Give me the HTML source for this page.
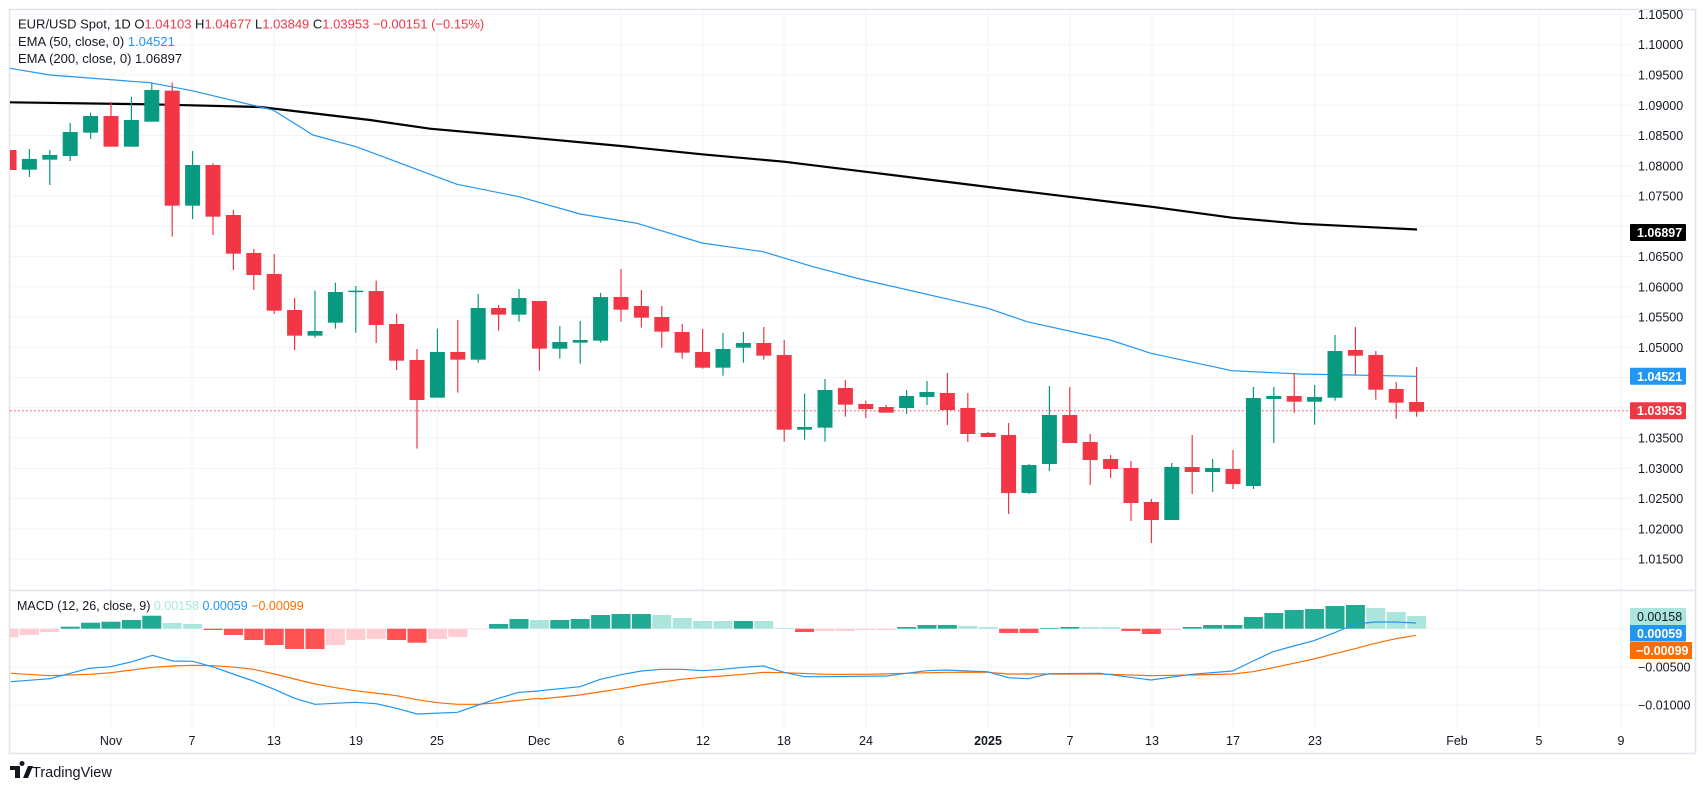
<!DOCTYPE html>
<html><head><meta charset="utf-8">
<style>
html,body{margin:0;padding:0;background:#fff;width:1706px;height:789px;overflow:hidden}
svg text{font-family:"Liberation Sans",sans-serif}
</style></head>
<body>
<svg id="s" width="1706" height="789" xmlns="http://www.w3.org/2000/svg"></svg>
<script>
const S=document.getElementById('s');let h='';
const yP=p=>75+(1.095-p)*6051;
const X=i=>111+(i-6)*20.4;
const L=10,R=1630;
// frame
h+='<rect x="9.5" y="9.5" width="1686" height="744" fill="none" stroke="#E0E3EB" stroke-width="1.5"/>';
// vertical grid
const vx=[111,192,274,356,437,539,621,703,784,866,988,1070,1152,1233,1315,1457,1539,1621];
vx.forEach(x=>h+=`<line x1="${x}" y1="10" x2="${x}" y2="728" stroke="#F0F3FA" stroke-width="1"/>`);
// horizontal price grid + labels
for(let k=0;k<=18;k++){const p=1.105-k*0.005;const y=yP(p);
 h+=`<line x1="${L}" y1="${y}" x2="${R}" y2="${y}" stroke="#F0F3FA"/>`;
 h+=`<text x="1638" y="${y+4.5}" font-size="12.5" fill="#131722">${p.toFixed(5)}</text>`;}
h+=`<line x1="10" y1="590.5" x2="1696" y2="590.5" stroke="#E0E3EB" stroke-width="1.5"/>`;
// MACD grid
[628.7,667.3,705.3].forEach(y=>h+=`<line x1="${L}" y1="${y}" x2="${R}" y2="${y}" stroke="#F0F3FA"/>`);
h+=`<text x="1638" y="671.5" font-size="12.5" fill="#131722">−0.00500</text><text x="1638" y="709.5" font-size="12.5" fill="#131722">−0.01000</text>`;
h+='<defs><clipPath id="c"><rect x="10" y="10" width="1620" height="580"/></clipPath><clipPath id="c2"><rect x="10" y="591" width="1620" height="137"/></clipPath></defs>';
// candles: [offsetY, top, bot, wt, wb, color]
const G='#089981',Rd='#F23645';
const c7=[[270,330,270,330,'r'],[297,329,267,351,'g'],[285,299,270,375,'g'],[216,288,189,303,'g'],[168,218,158,237,'g'],[168,260,126,260,'r'],[180,260,110,260,'g'],[90,185,70,185,'g'],[92,437,68,530,'r'],[315,437,273,477,'g'],[315,470,310,525,'r'],[465,581,450,630,'r'],[579,645,567,690,'r'],[642,752,582,762,'r'],[750,827,714,870,'r'],[813,827,692,833,'g'],[696,788,668,806,'g'],[692,695,678,818,'g'],[693,795,662,849,'r'],[792,902,762,930,'r'],[900,1020,867,1166,'r']];
const c8=[[876,1013,806,1013,'g'],[876,899,780,998,'r'],[744,899,702,908,'g'],[744,764,735,812,'r'],[714,764,687,785,'g'],[723,866,723,932,'r'],[846,866,798,896,'g'],[840,848,783,911,'g'],[711,842,699,848,'g'],[711,749,627,785,'r'],[738,773,690,803,'r'],[771,815,738,863,'r'],[816,878,792,896,'r'],[876,923,807,926,'r'],[867,923,819,947,'g'],[849,863,816,908,'g'],[849,887,801,899,'r'],[885,1109,840,1145,'r'],[1101,1109,1001,1139,'g'],[990,1103,957,1145,'g'],[984,1034,960,1070,'r']];
const c9=[[672,687,662,714,'r'],[681,698,675,698,'r'],[648,684,630,702,'g'],[636,651,603,675,'g'],[639,690,579,735,'r'],[684,762,639,786,'r'],[759,771,756,771,'r'],[765,939,729,1002,'r'],[855,939,852,942,'g'],[705,852,618,873,'g'],[705,789,621,789,'r'],[786,840,762,915,'r'],[837,867,825,894,'r'],[864,969,843,1023,'r'],[966,1020,957,1089,'r'],[861,1020,849,1020,'g'],[861,876,765,942,'r'],[864,876,837,936,'g'],[867,912,810,927,'r'],[654,918,621,927,'g'],[648,657,621,789,'g']];
const c10=[[396,401.7,373,412.7,'r'],[397,401.7,385,424.7,'g'],[351,397.7,335,400.7,'g'],[350,355.7,327,374.7,'r'],[355,389.7,351,399.7,'r'],[389,402.7,382,418.7,'r'],[402,411.7,367,416.7,'r']];
let cs=[];
c7.forEach(a=>cs.push(a.slice(0,4).map(v=>60+v/3).concat(a[4])));
c8.forEach(a=>cs.push(a.slice(0,4).map(v=>60+v/3).concat(a[4])));
c9.forEach(a=>cs.push(a.slice(0,4).map(v=>180+v/3).concat(a[4])));
c10.forEach(a=>cs.push(a));
// price last line
h+=`<line x1="10" y1="410.7" x2="1630" y2="410.7" stroke="#F23645" stroke-dasharray="1.5,2.5"/>`;
// EMAs
const pl=(pts,col,w,cl)=>`<polyline clip-path="url(#${cl})" points="${pts.map(p=>p.join(',')).join(' ')}" fill="none" stroke="${col}" stroke-width="${w}" stroke-linejoin="round"/>`;
h+=pl([[10,102.3],[150,104.3],[260,107],[370,120],[430,128.7],[520,136.7],[621,146],[702,154.3],[784,161.7],[870,172.3],[932,180],[1027,191.7],[1151,206.7],[1232,217.7],[1300,223.7],[1417,229.5]],'#000',2.2,'c');
h+=pl([[10,68.3],[50,75],[150,82.7],[192,90.7],[273,110],[313,135],[356,146.7],[383,156.7],[430,174.3],[457,184.3],[519,196.7],[580,214],[637,223.3],[702,243],[763,251.7],[813,266.7],[860,279],[988,308.3],[1027,321.7],[1110,340],[1151,353.3],[1232,370.7],[1300,374],[1416,376.3]],'#2196F3',1.2,'c');
let g='';
cs.forEach((a,i)=>{const x=X(i+1);const col=a[4]=='g'?G:Rd;
 g+=`<line x1="${x}" y1="${a[2]}" x2="${x}" y2="${a[3]}" stroke="${col}" stroke-width="1.2"/>`;
 g+=`<rect x="${x-7.5}" y="${a[0]}" width="15" height="${Math.max(1.5,a[1]-a[0])}" fill="${col}"/>`;});
h+=`<g clip-path="url(#c)">${g}</g>`;
// MACD histogram
const hv=[[-8.7,'P'],[-6.3,'P'],[-3.3,'P'],[2,'G'],[6,'G'],[7,'G'],[8.7,'G'],[13,'G'],[5.7,'L'],[4.7,'L'],[-1.3,'R'],[-6.3,'R'],[-11.3,'R'],[-16.3,'R'],[-20.3,'R'],[-20.3,'R'],[-16.3,'P'],[-11.3,'P'],[-10.3,'P'],[-11.3,'R'],[-14,'R'],[-10.3,'P'],[-8.3,'P'],[-0.5,'P'],[4.7,'G'],[9.7,'G'],[8.7,'L'],
[8.7,'G'],[9.7,'G'],[13.7,'G'],[14.7,'G'],[14.7,'G'],[13.7,'L'],[10.7,'L'],[7.7,'L'],[7.7,'L'],[7.7,'G'],[7.7,'L'],[0.7,'L'],[-3.3,'R'],[-2.3,'P'],[-2.3,'P'],[-1.3,'P'],[-1.3,'P'],[1.7,'G'],[3.7,'G'],[3.7,'G'],[2.7,'L'],[1.7,'L'],[-4.3,'R'],[-4.3,'R'],[0.7,'G'],[1.7,'G'],[1.7,'L'],[1.7,'L'],[-2.3,'R'],[-5.3,'R'],[-1.3,'P'],[1.7,'G'],[3.7,'G'],[3.7,'G'],[11.7,'G'],[15.7,'G'],[18.7,'G'],[19.7,'G'],[22.7,'G'],[23.7,'G'],[20.7,'L'],[16.7,'L'],[12.7,'L']];
const hc={G:'#22AB94',L:'#ACE5DC',R:'#FF5252',P:'#FFCDD2'};
const z=628.7;let m='';
hv.forEach((v,i)=>{const x=X(i+1);const y=v[0]>0?z-v[0]:z;m+=`<rect x="${x-9.5}" y="${y}" width="19" height="${Math.abs(v[0])}" fill="${hc[v[1]]}"/>`;});
// MACD lines
const z5=(a)=>a.map(p=>[p[0]/2.8,580+p[1]/3]),z11=a=>a.map(p=>[540+p[0]/3,590+p[1]/3]),z6=a=>a.map(p=>[1100+p[0]/2.587,580+p[1]/3]);
const blue=z5([[30,305],[140,296],[250,265],[310,260],[370,245],[427,226],[484,243],[540,244],[600,262],[660,285],[710,303],[768,328],[825,355],[882,373],[995,367],[1053,371],[1110,385],[1168,402],[1281,397],[1339,375],[1396,355],[1453,337],[1510,333]]).concat(z11([[0,302],[120,290],[181,268],[243,254],[304,243],[364,238],[425,238],[488,242],[548,238],[610,232],[670,228],[732,247],[793,260],[855,260],[1040,258],[1099,250],[1160,242],[1220,240],[1282,243],[1342,245],[1405,263],[1465,266],[1527,251]])).concat(z6([[0,280],[132,300],[237,283],[343,273],[396,243],[448,215],[501,198],[553,182],[607,158],[660,132],[712,126],[765,126],[818,129]]));
const org=z5([[30,280],[140,287],[250,283],[310,278],[370,270],[427,262],[484,258],[540,256],[600,257],[660,262],[710,268],[768,282],[825,297],[882,312],[940,323],[995,332],[1110,347],[1168,359],[1225,368],[1281,373],[1339,373],[1396,368],[1453,361],[1510,355]]).concat(z11([[0,327],[120,315],[243,296],[304,285],[364,276],[425,268],[488,262],[548,258],[610,253],[670,247],[732,248],[855,253],[977,253],[1099,250],[1220,247],[1342,247],[1405,252]])).concat(z6([[0,282],[132,287],[237,285],[343,282],[396,275],[448,263],[501,250],[553,237],[607,221],[660,206],[712,190],[765,176],[818,166]]));
h+=`<g clip-path="url(#c2)">${m}</g>`;
h+=pl(org,'#FF6D00',1.2,'c2');
h+=pl(blue,'#2196F3',1.2,'c2');
// axis boxes
const box=(y,bg,fg,t,w)=>`<rect x="1630" y="${y-8.5}" width="${w||56}" height="17" fill="${bg}" rx="1"/><text x="1637" y="${y+4.5}" font-size="12.5" font-weight="bold" fill="${fg}">${t}</text>`;
h+=`<rect x="1631" y="220" width="55" height="6" fill="#fff"/>`;
h+=box(232.5,'#000','#fff','1.06897');
h+=box(376.3,'#2196F3','#fff','1.04521');
h+=box(410.7,'#F23645','#fff','1.03953');
h+=`<rect x="1630" y="608" width="56" height="17" fill="#ACE5DC"/><text x="1637" y="621" font-size="12.5" fill="#131722">0.00158</text>`;
h+=`<rect x="1630" y="625" width="56" height="16.5" fill="#2196F3"/><text x="1637" y="638" font-size="12.5" font-weight="bold" fill="#fff">0.00059</text>`;
h+=`<rect x="1630" y="642" width="62" height="17" fill="#FF6D00"/><text x="1636" y="655" font-size="12.5" font-weight="bold" fill="#fff">−0.00099</text>`;
// date labels
const dl=[[111,'Nov'],[192,'7'],[274,'13'],[356,'19'],[437,'25'],[539,'Dec'],[621,'6'],[703,'12'],[784,'18'],[866,'24'],[988,'2025'],[1070,'7'],[1152,'13'],[1233,'17'],[1315,'23'],[1457,'Feb'],[1539,'5'],[1621,'9']];
dl.forEach(d=>h+=`<text x="${d[0]}" y="745" font-size="12.5" text-anchor="middle" fill="#131722"${d[1]=='2025'?' font-weight="bold"':''}>${d[1]}</text>`);
// legends
h+=`<text x="18" y="28.5" font-size="13" fill="#131722">EUR/USD Spot, 1D  O<tspan fill="#F23645">1.04103</tspan>  H<tspan fill="#F23645">1.04677</tspan>  L<tspan fill="#F23645">1.03849</tspan>  C<tspan fill="#F23645">1.03953</tspan>  <tspan fill="#F23645">−0.00151 (−0.15%)</tspan></text>`;
h+=`<text x="18" y="46" font-size="13" fill="#131722">EMA (50, close, 0)  <tspan fill="#2196F3">1.04521</tspan></text>`;
h+=`<text x="18" y="63" font-size="13" fill="#131722">EMA (200, close, 0)  1.06897</text>`;
h+=`<text x="17" y="610" font-size="12.5" fill="#131722">MACD (12, 26, close, 9)  <tspan fill="#ACE5DC">0.00158</tspan>  <tspan fill="#2196F3">0.00059</tspan>  <tspan fill="#FF6D00">−0.00099</tspan></text>`;
// logo
h+=`<path d="M10 766h10v12h-5v-8h-5z M22 766a2.5 2.5 0 1 1 0.01 0z M28 766h5l-5 12h-5z" fill="#131722"/>`;
h+=`<text x="32" y="777" font-size="14.5" fill="#131722">TradingView</text>`;
S.innerHTML=h;
</script>
</body></html>
